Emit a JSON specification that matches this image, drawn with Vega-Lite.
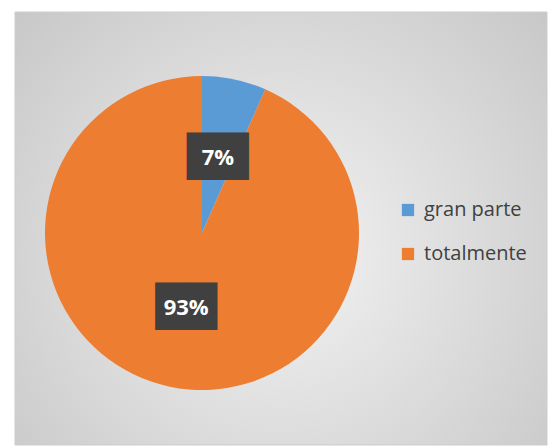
{
  "$schema": "https://vega.github.io/schema/vega-lite/v6.json",
  "width": 548,
  "height": 446,
  "autosize": {"type": "fit", "contains": "padding"},
  "padding": {"left": 14, "top": 11, "right": 0, "bottom": 0},
  "background": "white",
  "config": {"view": {"stroke": null}},
  "data": {
    "values": [
      {"categoria": "gran parte", "porcentaje": 6.6, "etiqueta": "7%", "orden": 1},
      {"categoria": "totalmente", "porcentaje": 93.4, "etiqueta": "93%", "orden": 2}
    ]
  },
  "layer": [
    {
      "data": {"values": [{}]},
      "mark": {
        "type": "rect",
        "x": 0, "y": 0,
        "x2": {"expr": "width"}, "y2": {"expr": "height"},
        "stroke": "#cdcdcd", "strokeWidth": 1,
        "fill": {
          "gradient": "radial",
          "x1": 0.5, "y1": 0.55, "r1": 0,
          "x2": 0.5, "y2": 0.55, "r2": 0.75,
          "stops": [
            {"offset": 0, "color": "#f3f3f3"},
            {"offset": 1, "color": "#c3c3c3"}
          ]
        }
      },
      "encoding": {}
    },
    {
      "mark": {"type": "arc", "x": 187, "y": 221, "outerRadius": 157},
      "encoding": {
        "theta": {"field": "porcentaje", "type": "quantitative", "stack": true},
        "order": {"field": "orden", "type": "ordinal"},
        "color": {
          "field": "categoria",
          "type": "nominal",
          "scale": {"domain": ["gran parte", "totalmente"], "range": ["#5B9BD5", "#ED7D31"]},
          "legend": {
            "title": null,
            "orient": "none",
            "legendX": 383,
            "legendY": 188,
            "symbolType": "square",
            "symbolSize": 150,
            "symbolStrokeWidth": 0,
            "labelFont": "Open Sans",
            "labelFontSize": 20,
            "labelColor": "#404040",
            "rowPadding": 24,
            "labelOffset": 6
          }
        }
      }
    },
    {
      "mark": {"type": "text", "x": 187, "y": 221, "radius": 77, "color": "#404040",
        "font": "DejaVu Sans", "fontSize": 40, "align": "center", "baseline": "middle"},
      "encoding": {
        "theta": {"field": "porcentaje", "type": "quantitative", "stack": true},
        "order": {"field": "orden", "type": "ordinal"},
        "text": {"value": "██"}
      }
    },
    {
      "mark": {"type": "text", "x": 187, "y": 221, "radius": 77, "color": "white", "fontWeight": "bold",
        "font": "Open Sans", "fontSize": 22, "align": "center", "baseline": "middle"},
      "encoding": {
        "theta": {"field": "porcentaje", "type": "quantitative", "stack": true},
        "order": {"field": "orden", "type": "ordinal"},
        "text": {"field": "etiqueta", "type": "nominal"}
      }
    }
  ]
}
